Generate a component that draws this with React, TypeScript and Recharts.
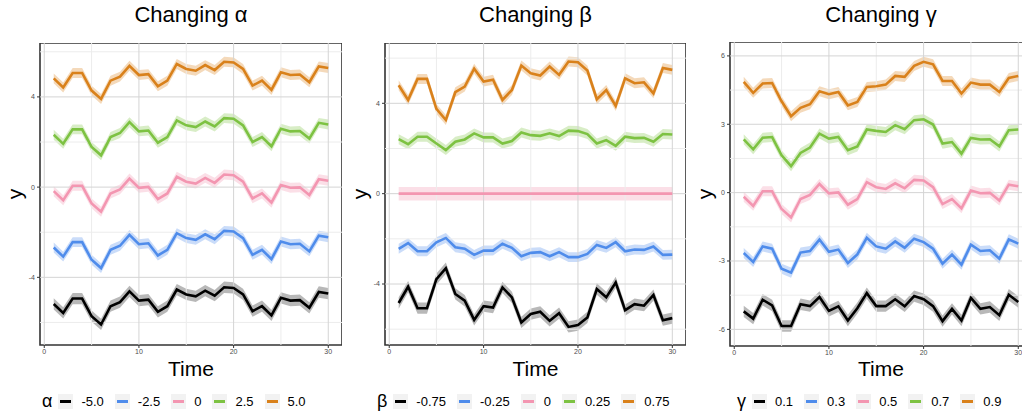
import React from 'react';
import {
  ComposedChart,
  Line,
  Area,
  XAxis,
  YAxis,
  ReferenceLine,
  ReferenceArea,
} from 'recharts';

const time = [1, 2, 3, 4, 5, 6, 7, 8, 9, 10, 11, 12, 13, 14, 15, 16, 17, 18, 19, 20, 21, 22, 23, 24, 25, 26, 27, 28, 29, 30];

const colors = ['#000000', '#4F8CEB', '#F396B1', '#7DC242', '#D9811B'];

// Changing alpha
const alphaLevels = ['-5.0', '-2.5', '0', '2.5', '5.0'];
const alphaBlack = [-5.18, -5.58, -4.94, -4.94, -5.72, -6.09, -5.28, -5.1, -4.62, -5.03, -4.99, -5.53, -5.28, -4.54, -4.76, -4.84, -4.59, -4.81, -4.44, -4.47, -4.76, -5.5, -5.28, -5.69, -4.91, -5.03, -5.01, -5.35, -4.65, -4.72];
const alphaBlue = [-2.68, -3.08, -2.44, -2.44, -3.22, -3.59, -2.78, -2.6, -2.12, -2.53, -2.49, -3.03, -2.78, -2.04, -2.26, -2.34, -2.09, -2.31, -1.94, -1.97, -2.26, -3.0, -2.78, -3.19, -2.41, -2.53, -2.51, -2.85, -2.15, -2.22];
const alphaPink = [-0.18, -0.58, 0.06, 0.06, -0.72, -1.09, -0.28, -0.1, 0.38, -0.03, 0.01, -0.53, -0.28, 0.46, 0.24, 0.16, 0.41, 0.19, 0.56, 0.53, 0.24, -0.5, -0.28, -0.69, 0.09, -0.03, -0.01, -0.35, 0.35, 0.28];
const alphaGreen = [2.32, 1.92, 2.56, 2.56, 1.78, 1.41, 2.22, 2.4, 2.88, 2.47, 2.51, 1.97, 2.22, 2.96, 2.74, 2.66, 2.91, 2.69, 3.06, 3.03, 2.74, 2.0, 2.22, 1.81, 2.59, 2.47, 2.49, 2.15, 2.85, 2.78];
const alphaOrange = [4.82, 4.42, 5.06, 5.06, 4.28, 3.91, 4.72, 4.9, 5.38, 4.97, 5.01, 4.47, 4.72, 5.46, 5.24, 5.16, 5.41, 5.19, 5.56, 5.53, 5.24, 4.5, 4.72, 4.31, 5.09, 4.97, 4.99, 4.65, 5.35, 5.28];
const alphaBand = [0.25, 0.22, 0.22, 0.22, 0.22];

// Changing beta
const betaLevels = ['-0.75', '-0.25', '0', '0.25', '0.75'];
const betaBlack = [-4.84, -4.12, -5.07, -5.07, -3.78, -3.3, -4.44, -4.74, -5.59, -4.98, -5.04, -4.15, -4.59, -5.7, -5.33, -5.23, -5.63, -5.29, -5.9, -5.82, -5.48, -4.22, -4.59, -3.93, -5.16, -4.89, -4.96, -4.49, -5.6, -5.51];
const betaBlue = [-2.44, -2.19, -2.55, -2.55, -2.15, -1.96, -2.37, -2.44, -2.71, -2.52, -2.52, -2.22, -2.4, -2.77, -2.62, -2.59, -2.77, -2.59, -2.81, -2.81, -2.67, -2.27, -2.4, -2.15, -2.55, -2.47, -2.49, -2.34, -2.71, -2.7];
const betaPink = [0, 0, 0, 0, 0, 0, 0, 0, 0, 0, 0, 0, 0, 0, 0, 0, 0, 0, 0, 0, 0, 0, 0, 0, 0, 0, 0, 0, 0, 0];
const betaGreen = [2.41, 2.19, 2.52, 2.52, 2.22, 1.93, 2.3, 2.4, 2.67, 2.49, 2.49, 2.22, 2.33, 2.71, 2.59, 2.56, 2.67, 2.55, 2.79, 2.77, 2.64, 2.22, 2.37, 2.12, 2.52, 2.46, 2.47, 2.3, 2.64, 2.62];
const betaOrange = [4.8, 4.15, 5.08, 5.08, 3.75, 3.26, 4.49, 4.74, 5.53, 4.96, 5.04, 4.15, 4.59, 5.67, 5.33, 5.23, 5.63, 5.26, 5.85, 5.82, 5.45, 4.18, 4.59, 3.88, 5.11, 4.89, 4.93, 4.44, 5.56, 5.48];
const betaBand = [0.25, 0.22, 0.3, 0.22, 0.22];

// Changing gamma
const gammaLevels = ['0.1', '0.3', '0.5', '0.7', '0.9'];
const gammaBlack = [-5.21, -5.53, -4.7, -4.95, -5.85, -5.85, -4.9, -4.98, -4.58, -5.19, -4.99, -5.61, -5.07, -4.41, -4.98, -4.98, -4.68, -4.99, -4.54, -4.68, -4.98, -5.64, -5.1, -5.61, -4.62, -5.1, -5.02, -5.38, -4.48, -4.8];
const gammaBlue = [-2.65, -3.04, -2.36, -2.46, -3.34, -3.51, -2.63, -2.56, -2.06, -2.6, -2.5, -3.09, -2.71, -1.98, -2.36, -2.46, -2.14, -2.42, -2.02, -2.17, -2.46, -3.12, -2.72, -3.16, -2.28, -2.56, -2.53, -2.9, -2.05, -2.24];
const gammaPink = [-0.18, -0.58, 0.06, 0.06, -0.72, -1.09, -0.28, -0.1, 0.38, -0.03, 0.01, -0.53, -0.28, 0.46, 0.24, 0.16, 0.41, 0.19, 0.56, 0.53, 0.24, -0.5, -0.28, -0.69, 0.09, -0.03, -0.01, -0.35, 0.35, 0.28];
const gammaGreen = [2.34, 1.9, 2.41, 2.44, 1.64, 1.16, 1.74, 1.98, 2.59, 2.37, 2.44, 1.86, 2.03, 2.77, 2.71, 2.66, 2.96, 2.78, 3.18, 3.22, 2.99, 2.15, 2.22, 1.71, 2.4, 2.33, 2.34, 2.03, 2.74, 2.77];
const gammaOrange = [4.86, 4.38, 4.79, 4.81, 4.01, 3.35, 3.72, 3.88, 4.45, 4.32, 4.42, 3.83, 3.98, 4.64, 4.67, 4.74, 5.12, 5.08, 5.56, 5.74, 5.63, 4.9, 4.9, 4.35, 4.83, 4.74, 4.74, 4.42, 5.03, 5.12];
const gammaBand = [0.25, 0.22, 0.22, 0.22, 0.22];

const FONT = '"Liberation Sans", Arial, Helvetica, sans-serif';
const X_DOMAIN: [number, number] = [-0.45, 31.45];

type PanelProps = {
  title: string;
  symbol: string;
  levels: string[];
  series: number[][];
  band: number[];
  yDomain: [number, number];
  yTicks: number[];
  yMinor: number[];
  plotLeft: number;
  plotTop: number;
  plotW: number;
  plotH: number;
  legendLeft: number;
};

function Panel(p: PanelProps) {
  const rows = time.map((t, i) => {
    const r: any = { t };
    p.series.forEach((s, k) => {
      r['v' + k] = s[i];
      r['b' + k] = [s[i] - p.band[k], s[i] + p.band[k]];
    });
    return r;
  });
  const axisW = 40;
  const axisH = 20;
  const cx = p.plotLeft + p.plotW / 2;
  const cy = p.plotTop + p.plotH / 2;

  return (
    <>
      <div
        style={{
          position: 'absolute', left: cx - 150, width: 300, top: 4,
          textAlign: 'center', fontSize: 22, lineHeight: '22px', color: '#000',
        }}
      >
        {p.title}
      </div>
      <div
        style={{
          position: 'absolute', left: p.plotLeft - axisW, top: p.plotTop,
        }}
      >
        <ComposedChart
          width={axisW + p.plotW}
          height={p.plotH + axisH}
          data={rows}
          margin={{ top: 0, right: 0, bottom: 0, left: 0 }}
        >
          <XAxis
            dataKey="t"
            type="number"
            domain={X_DOMAIN}
            ticks={[0, 10, 20, 30]}
            allowDataOverflow
            axisLine={false}
            tickSize={3}
            tickMargin={1}
            height={axisH}
            tick={{ fontSize: 7, fill: '#4d4d4d', fontFamily: FONT }}
            tickLine={{ stroke: '#333333' }}
          />
          <YAxis
            type="number"
            domain={p.yDomain}
            ticks={p.yTicks}
            allowDataOverflow
            axisLine={false}
            width={axisW}
            tickSize={3}
            tickMargin={2}
            tick={{ fontSize: 7, fill: '#4d4d4d', fontFamily: FONT }}
            tickLine={{ stroke: '#333333' }}
          />
          {[5, 15, 25].map((v) => (
            <ReferenceLine key={'xm' + v} x={v} stroke="#ececec" strokeWidth={1} />
          ))}
          {p.yMinor.map((v) => (
            <ReferenceLine key={'ym' + v} y={v} stroke="#ececec" strokeWidth={1} />
          ))}
          {[0, 10, 20, 30].map((v) => (
            <ReferenceLine key={'xM' + v} x={v} stroke="#d4d4d4" strokeWidth={1} />
          ))}
          {p.yTicks.map((v) => (
            <ReferenceLine key={'yM' + v} y={v} stroke="#d4d4d4" strokeWidth={1} />
          ))}
          {p.series.map((_, k) => (
            <Area
              key={'b' + k}
              dataKey={'b' + k}
              type="linear"
              stroke="none"
              fill={colors[k]}
              fillOpacity={k === 0 ? 0.28 : 0.3}
              isAnimationActive={false}
            />
          ))}
          {p.series.map((_, k) => (
            <Line
              key={'v' + k}
              dataKey={'v' + k}
              type="linear"
              stroke={colors[k]}
              strokeWidth={2.6}
              dot={false}
              isAnimationActive={false}
            />
          ))}
          <ReferenceArea
            x1={X_DOMAIN[0]}
            x2={X_DOMAIN[1]}
            y1={p.yDomain[0]}
            y2={p.yDomain[1]}
            fill="none"
            stroke="#333333"
            strokeWidth={1.6}
            ifOverflow="visible"
          />
        </ComposedChart>
      </div>
      <div
        style={{
          position: 'absolute', left: cx - 60, width: 120, top: 358,
          textAlign: 'center', fontSize: 21, lineHeight: '21px',
        }}
      >
        Time
      </div>
      <div
        style={{
          position: 'absolute', left: p.plotLeft - 40 + 15 - 30, top: cy - 11,
          width: 60, height: 22, textAlign: 'center', fontSize: 21, lineHeight: '22px',
          transform: 'rotate(-90deg)',
        }}
      >
        y
      </div>
      <div
        style={{
          position: 'absolute', left: p.legendLeft, top: 391, height: 20,
          display: 'flex', alignItems: 'center', fontSize: 13,
        }}
      >
        <span style={{ fontSize: 18, marginRight: 6 }}>{p.symbol}</span>
        {p.levels.map((lv, k) => (
          <React.Fragment key={lv}>
            <div
              style={{
                width: 15, height: 15, background: '#f2f2f2', position: 'relative',
              }}
            >
              <div
                style={{
                  position: 'absolute', left: 2, right: 2, top: 6, height: 3,
                  background: colors[k],
                }}
              />
            </div>
            <span style={{ marginLeft: 8, marginRight: 11 }}>{lv}</span>
          </React.Fragment>
        ))}
      </div>
    </>
  );
}

export default function App() {
  return (
    <div
      style={{
        position: 'fixed', left: 0, top: 0, width: 1022, height: 416,
        background: '#ffffff', overflow: 'hidden', fontFamily: FONT, color: '#000',
      }}
    >
      <Panel
        title="Changing α"
        symbol="α"
        levels={alphaLevels}
        series={[alphaBlack, alphaBlue, alphaPink, alphaGreen, alphaOrange]}
        band={alphaBand}
        yDomain={[-7.0, 6.39]}
        yTicks={[-4, 0, 4]}
        yMinor={[-6, -2, 2, 6]}
        plotLeft={40}
        plotTop={43}
        plotW={302}
        plotH={302}
        legendLeft={42}
      />
      <Panel
        title="Changing β"
        symbol="β"
        levels={betaLevels}
        series={[betaBlack, betaBlue, betaPink, betaGreen, betaOrange]}
        band={betaBand}
        yDomain={[-6.7, 6.67]}
        yTicks={[-4, 0, 4]}
        yMinor={[-6, -2, 2, 6]}
        plotLeft={385}
        plotTop={43}
        plotW={301}
        plotH={302}
        legendLeft={377}
      />
      <Panel
        title="Changing γ"
        symbol="γ"
        levels={gammaLevels}
        series={[gammaBlack, gammaBlue, gammaPink, gammaGreen, gammaOrange]}
        band={gammaBand}
        yDomain={[-6.73, 6.61]}
        yTicks={[-6, -3, 0, 3, 6]}
        yMinor={[-4.5, -1.5, 1.5, 4.5]}
        plotLeft={730}
        plotTop={42}
        plotW={302}
        plotH={304}
        legendLeft={737}
      />
    </div>
  );
}
